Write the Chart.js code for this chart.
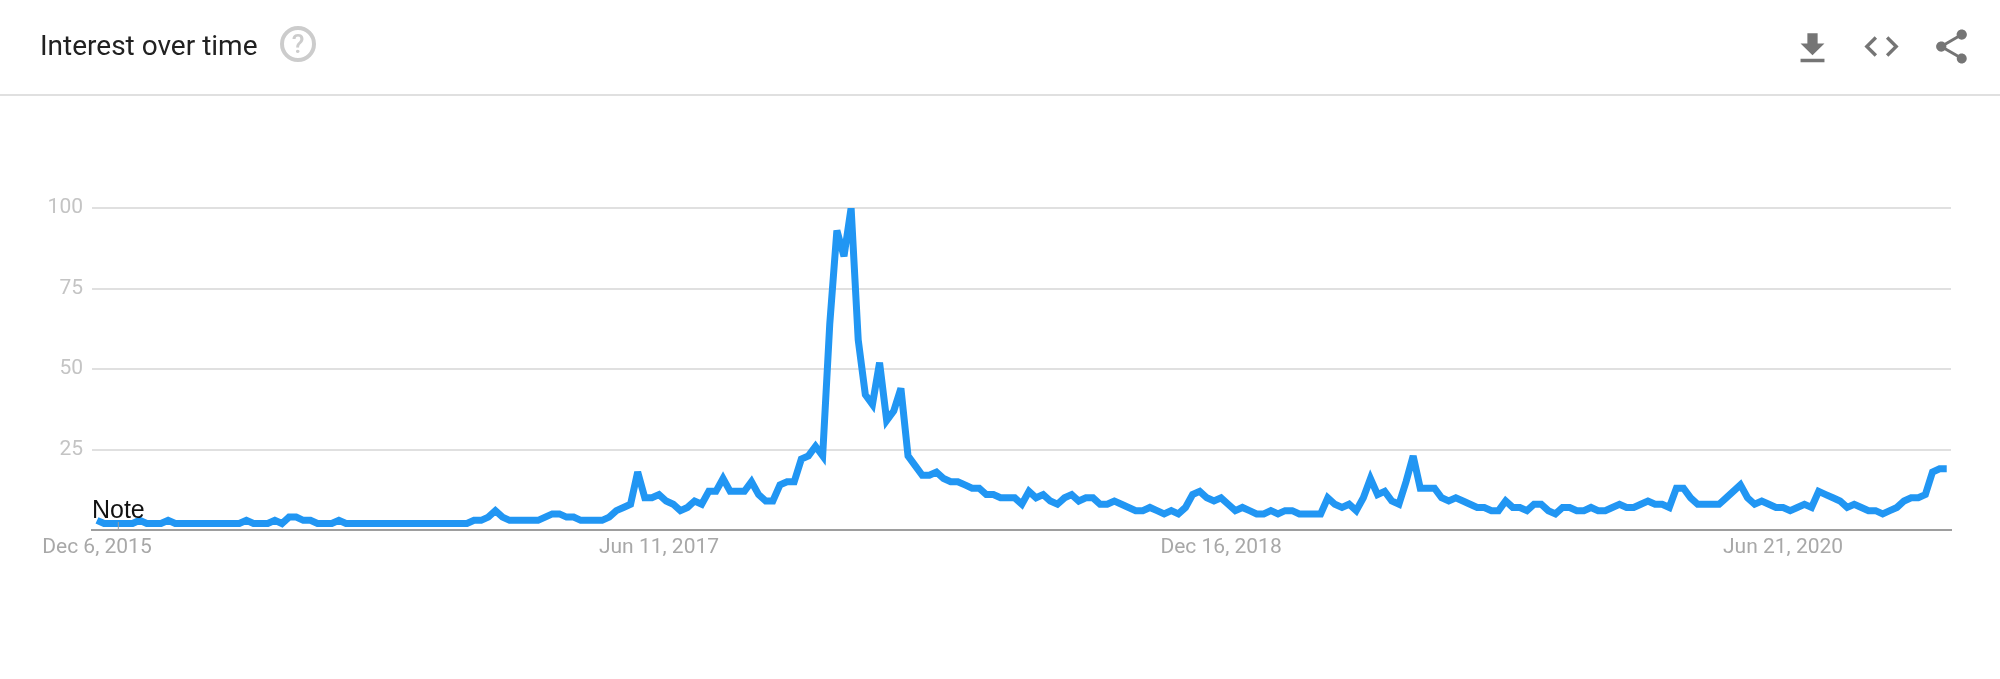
<!DOCTYPE html>
<html lang="en">
<head>
  <meta charset="UTF-8" />
  <title>Interest over time</title>
  <script src="https://cdn.jsdelivr.net/npm/chart.js"></script>
  <style>
    html, body { margin: 0; padding: 0; background: #fff; overflow: hidden; }
    body { width: 2000px; height: 679px; position: relative; font-family: Roboto, Arial, sans-serif; }
    .title { position: absolute; left: 40px; top: 28px; font-size: 28px; line-height: 36px; color: #212121; }
    .rule { position: absolute; left: 0; top: 94px; width: 2000px; height: 2px; background: #e0e0e0; }
    .icon { position: absolute; width: 41px; height: 41px; fill: #757575; }
    .help { position: absolute; left: 280px; top: 26px; width: 36px; height: 36px; box-sizing: border-box;
            border: 4px solid #ccc; border-radius: 50%; color: #ccc; font-size: 26px; font-weight: 500;
            line-height: 28px; text-align: center; }
    #trend { position: absolute; left: 0; top: 0; }
  </style>
</head>
<body>
  <canvas id="trend" width="2000" height="679"></canvas>
  <div class="title">Interest over time</div>
  <div class="help">?</div>
  <div class="rule"></div>
  <svg class="icon" style="left:1792px;top:28px" viewBox="0 0 24 24"><path d="M19 9h-4V3H9v6H5l7 7 7-7zM5 18v2h14v-2H5z"/></svg>
  <svg class="icon" style="left:1861px;top:26px" viewBox="0 0 24 24"><path d="M9.4 16.6L4.8 12l4.6-4.6L8 6l-6 6 6 6 1.4-1.4zm5.2 0l4.6-4.6-4.6-4.6L16 6l6 6-6 6-1.4-1.4z"/></svg>
  <svg class="icon" style="left:1931px;top:26px" viewBox="0 0 24 24"><path d="M18 16.08c-.76 0-1.44.3-1.96.77L8.91 12.7c.05-.23.09-.46.09-.7s-.04-.47-.09-.7l7.05-4.11c.54.5 1.25.81 2.04.81 1.66 0 3-1.34 3-3s-1.34-3-3-3-3 1.34-3 3c0 .24.04.47.09.7L8.04 9.81C7.5 9.31 6.79 9 6 9c-1.66 0-3 1.34-3 3s1.34 3 3 3c.79 0 1.5-.31 2.04-.81l7.12 4.16c-.05.21-.08.43-.08.65 0 1.61 1.31 2.92 2.92 2.92 1.61 0 2.92-1.31 2.92-2.92s-1.31-2.92-2.92-2.92z"/></svg>

  <script>
    // weekly interest, one value per week starting Dec 6, 2015
    const interest = [
      3,2,2,2,2,2,3,2,2,2,3,2,2,2,2,2,2,2,2,2,2,3,2,2,2,3,2,4,4,3,
      3,2,2,2,3,2,2,2,2,2,2,2,2,2,2,2,2,2,2,2,2,2,2,3,3,4,6,4,3,3,
      3,3,3,4,5,5,4,4,3,3,3,3,4,6,7,8,18,10,10,11,9,8,6,7,9,8,12,12,16,12,
      12,12,15,11,9,9,14,15,15,22,23,26,23,64,93,85,100,59,42,39,52,34,37,44,23,20,17,17,18,16,
      15,15,14,13,13,11,11,10,10,10,8,12,10,11,9,8,10,11,9,10,10,8,8,9,8,7,6,6,7,6,
      5,6,5,7,11,12,10,9,10,8,6,7,6,5,5,6,5,6,6,5,5,5,5,10,8,7,8,6,10,16,
      11,12,9,8,15,23,13,13,13,10,9,10,9,8,7,7,6,6,9,7,7,6,8,8,6,5,7,7,6,6,
      7,6,6,7,8,7,7,8,9,8,8,7,13,13,10,8,8,8,8,10,12,14,10,8,9,8,7,7,6,7,
      8,7,12,11,10,9,7,8,7,6,6,5,6,7,9,10,10,11,18,19,19
    ];
    const yTicks = [25, 50, 75, 100];
    const tickWeeks = [0, 79, 158, 237];
    const tickLabels = ["Dec 6, 2015", "Jun 11, 2017", "Dec 16, 2018", "Jun 21, 2020"];
    const noteWeek = 3;
    const noteText = "Note";

    const noteMarker = {
      id: 'noteMarker',
      // sharp peaks get blunted like the original
      beforeDatasetsDraw(chart) { chart.ctx.miterLimit = 4; },
      afterDatasetsDraw(chart) {
        const { ctx, scales } = chart;
        const x = scales.x.getPixelForValue(noteWeek);
        const base = scales.y.getPixelForValue(0);
        ctx.save();
        ctx.strokeStyle = '#9e9e9e';
        ctx.lineWidth = 1;
        ctx.beginPath();
        ctx.moveTo(x, base - 8);
        ctx.lineTo(x, base);
        ctx.stroke();
        ctx.fillStyle = '#111';
        ctx.font = '25px "Liberation Sans", Arial, sans-serif';
        ctx.textAlign = 'center';
        ctx.textBaseline = 'alphabetic';
        ctx.fillText(noteText, x, base - 12);
        ctx.restore();
      }
    };

    new Chart(document.getElementById('trend').getContext('2d'), {
      type: 'line',
      data: {
        datasets: [{
          data: interest.map((v, i) => ({ x: i, y: v })),
          borderColor: '#2196f3',
          borderWidth: 7,
          borderJoinStyle: 'miter',
          borderCapStyle: 'butt',
          pointRadius: 0,
          tension: 0,
          fill: false,
          clip: 0
        }]
      },
      plugins: [noteMarker],
      options: {
        responsive: false,
        animation: false,
        layout: { padding: { top: 208, right: 49, left: 0, bottom: 0 } },
        plugins: { legend: { display: false }, tooltip: { enabled: false } },
        scales: {
          x: {
            type: 'linear',
            min: -0.7,
            max: 260.6,
            afterBuildTicks(scale) { scale.ticks = tickWeeks.map(w => ({ value: w })); },
            afterFit(scale) { scale.height = 149; },
            grid: { display: false, drawTicks: false },
            border: { display: true, color: '#9e9e9e', width: 2 },
            ticks: {
              autoSkip: false,
              maxRotation: 0,
              padding: 5,
              color: '#a8a8a8',
              font: { family: 'Roboto', size: 21 },
              callback: v => tickLabels[tickWeeks.indexOf(v)]
            }
          },
          y: {
            min: 0,
            max: 100,
            afterBuildTicks(scale) { scale.ticks = yTicks.map(v => ({ value: v })); },
            afterFit(scale) { scale.width = 92; },
            grid: { color: '#e0e0e0', lineWidth: 2, drawTicks: false },
            border: { display: false },
            ticks: {
              padding: 9,
              color: '#c4c4c4',
              font: { family: 'Roboto', size: 21 }
            }
          }
        }
      }
    });
  </script>
</body>
</html>
